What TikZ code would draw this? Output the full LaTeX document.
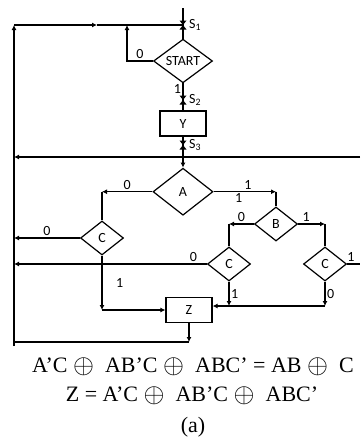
\documentclass[tikz,border=0pt]{standalone}
\usepackage{fontspec}
\setmainfont{Liberation Serif}
\newfontfamily\flowfont{Carlito}
\usetikzlibrary{arrows.meta,positioning,shapes.geometric}

\newcommand{\cutmark}[1]{\fill (#1) ++(-3.5,-4.5) -- ++(7,0) -- ++(-7,9) -- ++(7,0) -- cycle;}
\newcommand{\bigxor}{\raisebox{-0.15ex}{\scalebox{1.3}{$\oplus$}}}

\begin{document}
\begin{tikzpicture}[
  x=1pt, y=-1pt,
  line width=1.2pt,
  test/.style={
    draw,
    shape=diamond,
    inner sep=0pt,
    minimum width=43pt,
    minimum height=34pt,
    font=\flowfont\fontsize{14}{16}\selectfont
  },
  box/.style={
    draw,
    minimum width=46pt,
    minimum height=25pt,
    font=\flowfont\fontsize{14}{16}\selectfont
  },
  lbl/.style={font=\flowfont\fontsize{14}{16}\selectfont,inner sep=1.5pt},
  eqn/.style={font=\fontsize{22}{26}\selectfont,inner sep=0pt},
  arrow/.style={-{Latex[length=5pt,width=5pt]}}
]
  \useasboundingbox (0,0) rectangle (360,445);

  \node[test,minimum width=59pt,minimum height=43pt] (start) at (183,61) {START};
  \node[box,below=27pt of start] (y) {Y};
  \node[test,minimum width=60pt,minimum height=47pt,below=31pt of y] (a) {A};
  \node[test] (b) at (276,224) {B};
  \node[test] (c1) at (102,238) {C};
  \node[test] (c2) at (229,264) {C};
  \node[test] (c3) at (325,264) {C};
  \node[box] (z) at (189,310) {Z};

  \coordinate (top) at (183,8);
  \coordinate (s1) at (183,25);
  \coordinate (s2) at (183,100);
  \coordinate (s3) at (183,145);
  \coordinate (tl) at (14,25);
  \coordinate (tm) at (97,25);
  \coordinate (fb) at (127,25);
  \coordinate (bl) at (14,342);
  \coordinate (bx) at (14,346);
  \coordinate (rt) at (360,157);
  \coordinate (jn) at (325,306);

  % start and the loop back
  \draw (top) -- (start.north);
  \draw[arrow] (bx) -- (tl);
  \draw[arrow] (tl) -- (tm);
  \draw (tm) -- (s1);
  \draw[arrow] (start.west) -| node[lbl,pos=.25,above]{0} (fb);
  \draw (start.south) -- node[lbl,pos=.2,left]{1} (y.north);
  \draw[arrow] (y.south) -- (a.north);
  \draw[arrow] (rt) -- (rt -| tl);

  % cut points
  \cutmark{s1}
  \cutmark{s2}
  \cutmark{s3}
  \node[lbl,right=4pt of s1] (s1t) {S\textsubscript{1}};
  \node[lbl,right=4pt of s2] (s2t) {S\textsubscript{2}};
  \node[lbl,right=4pt of s3] (s3t) {S\textsubscript{3}};

  % tests
  \draw[arrow] (a.west) -- node[lbl,above]{0} (a.west -| c1.north);
  \draw (a.west -| c1.north) -- (c1.north);
  \draw[arrow] (c1.west) -- node[lbl,above]{0} (c1.west -| tl);
  \draw[arrow] (c1.south) -- node[lbl,right=12pt]{1} (c1.south |- z.west);
  \draw[arrow] (c1.south |- z.west) -- (z.west);
  \draw[arrow] (a.east) -- node[lbl,above,pos=.55]{1} node[lbl,below,pos=.4]{1} (a.east -| b.north);
  \draw (a.east -| b.north) -- (b.north);
  \draw[arrow] (b.west) -- node[lbl,above]{0} (b.west -| c2.north);
  \draw (b.west -| c2.north) -- (c2.north);
  \draw[arrow] (b.east) -- node[lbl,above,pos=.3]{1} (b.east -| c3.north);
  \draw (b.east -| c3.north) -- (c3.north);
  \draw[arrow] (c2.west) -- node[lbl,above,pos=.07]{0} (c2.west -| tl);
  \draw[arrow] (c2.south) -- node[lbl,right]{1} (c2.south |- jn);
  \draw[arrow] (c3.south) -- node[lbl,right]{0} (jn);
  \draw[arrow] (jn) -- (jn -| z.east);
  \draw (c3.east) -- node[lbl,above,pos=.3]{1} (c3.east -| rt);

  % output back to the top
  \draw[arrow] (z.south) -- (z.south |- bl);
  \draw (z.south |- bl) -- (bl);

  \node[eqn] (eq1) at (193,367) {A’C \bigxor\enspace AB’C \bigxor\enspace ABC’ = AB \bigxor\enspace C};
  \node[eqn] (eq2) at (192,396) {Z = A’C \bigxor\enspace AB’C \bigxor\enspace ABC’};
  \node[eqn] (cap) at (193,427) {(a)};
\end{tikzpicture}
\end{document}
